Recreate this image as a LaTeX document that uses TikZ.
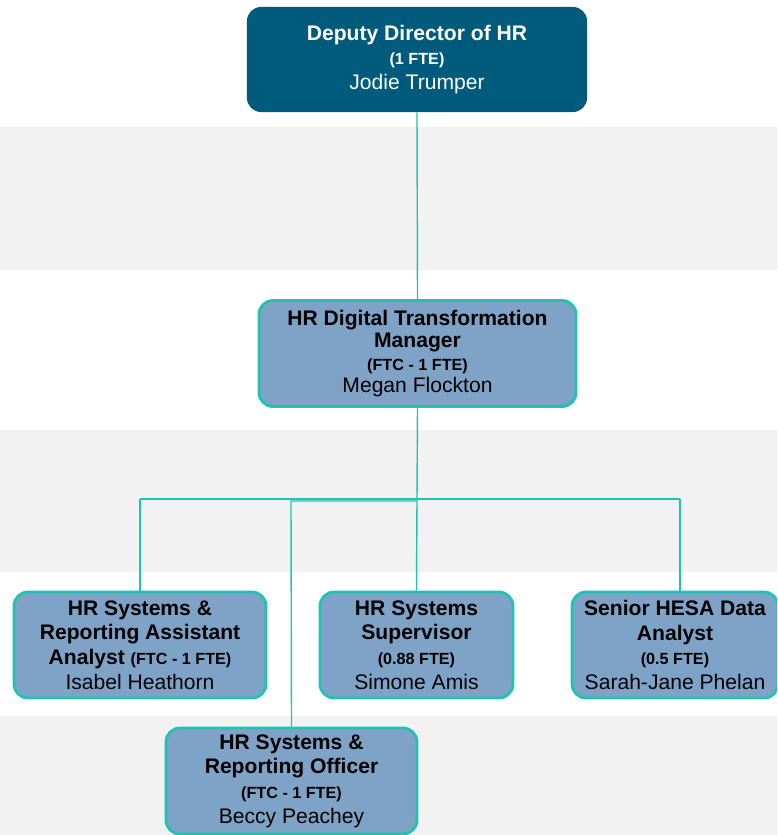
\documentclass[tikz,border=0pt]{standalone}
\usepackage{fontspec}
\setmainfont{Liberation Sans}
\usetikzlibrary{positioning}
\definecolor{hrnavy}{RGB}{0,90,124}
\definecolor{hrblue}{RGB}{127,163,199}
\definecolor{hrteal}{RGB}{32,194,180}
\definecolor{hrband}{RGB}{242,242,242}
\newcommand{\roletitle}{\fontsize{15}{17.5}\selectfont\bfseries}
\newcommand{\roleterm}{\fontsize{11.5}{17.5}\selectfont\bfseries}
\newcommand{\rolename}{\fontsize{15}{17.5}\selectfont\mdseries}
\begin{document}
\begin{tikzpicture}[x=0.025cm,y=-0.025cm,
    headbox/.style={fill=hrnavy,text=white,rounded corners=0.35cm,minimum height=2.625cm,inner sep=0pt,align=center,font=\fontsize{15}{17.5}\selectfont},
    rolebox/.style={draw=hrteal,line width=2pt,fill=hrblue,text=black,rounded corners=0.35cm,minimum height=2.65cm,inner sep=0pt,align=center,font=\fontsize{15}{17.5}\selectfont},
    link/.style={draw=hrteal,line width=1pt}]
    \useasboundingbox (0,0) rectangle (777,835);
    \clip (0,0) rectangle (777,835);
    \fill[hrband] (0,127) rectangle (777,270);
    \fill[hrband] (0,430) rectangle (777,572);
    \fill[hrband] (0,716) rectangle (777,835);

    \node[headbox,minimum width=8.5cm] (deputy) at (417,59.5)
        {\roletitle Deputy Director of HR\\ \roleterm (1 FTE)\\ \rolename Jodie Trumper};
    \node[rolebox,minimum width=7.925cm,font=\fontsize{15}{16}\selectfont] (manager) at (417.5,353.5)
        {\roletitle HR Digital Transformation\\ \roletitle Manager\\ \roleterm (FTC - 1 FTE)\\ \rolename Megan Flockton};
    \node[rolebox,minimum width=6.3cm] (isabel) at (140,645)
        {\roletitle HR Systems \&\\ \roletitle Reporting Assistant\\ \roletitle Analyst {\roleterm (FTC - 1 FTE)}\\ \rolename Isabel Heathorn};
    \node[rolebox,minimum width=4.825cm] (simone) at (416.5,645)
        {\roletitle HR Systems\\ \roletitle Supervisor\\ \roleterm (0.88 FTE)\\ \rolename Simone Amis};
    \node[rolebox,minimum width=5.15cm] (sarah) at (675,645)
        {\roletitle Senior HESA Data\\ \roletitle Analyst\\ \roleterm (0.5 FTE)\\ \rolename Sarah-Jane Phelan};
    \node[rolebox,minimum width=6.275cm] (beccy) at (291.5,781)
        {\roletitle HR Systems \&\\ \roletitle Reporting Officer\\ \roleterm (FTC - 1 FTE)\\ \rolename Beccy Peachey};

    \coordinate (split) at (417,499);
    \coordinate (leftend) at (140,499);
    \coordinate (rightend) at (680,499);
    \coordinate (lowsplit) at (291,501);
    \draw[link] (deputy.south) -- (manager.north);
    \draw[link] (manager.south) -- (simone.north);
    \draw[link] (leftend) -- (rightend);
    \draw[link] (leftend) -- (isabel.north);
    \draw[link] (rightend) -- (rightend |- sarah.north);
    \draw[link] (split |- lowsplit) -- (lowsplit) -- (beccy.north);
\end{tikzpicture}
\end{document}
